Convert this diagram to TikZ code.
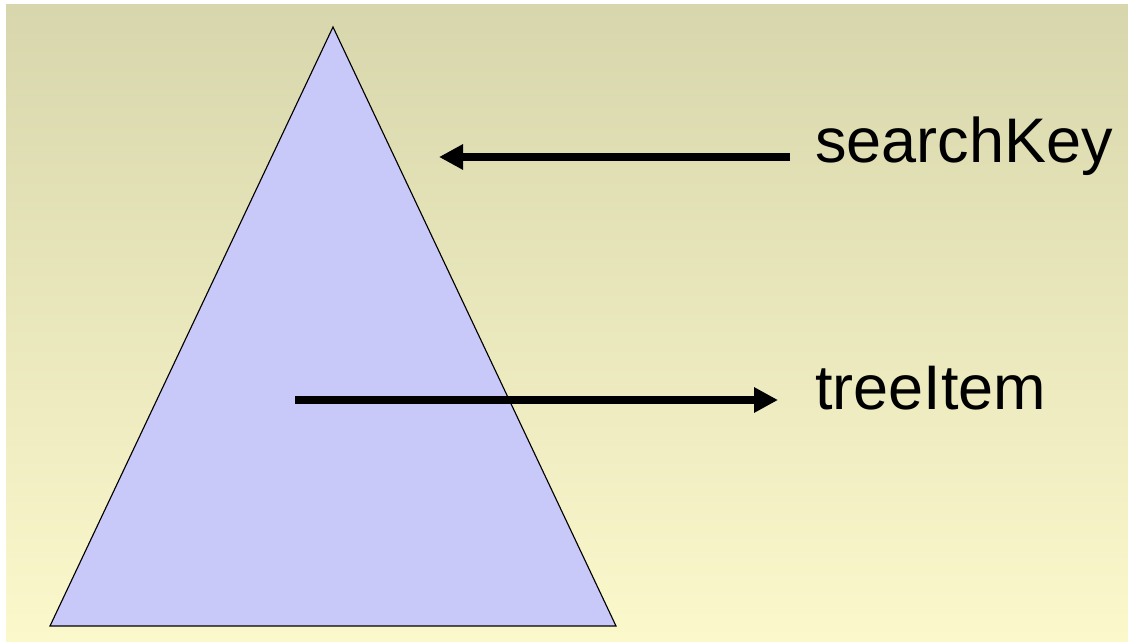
\documentclass[tikz,border=0pt]{standalone}
\usepackage{fontspec}
\setmainfont{Liberation Sans}
\usetikzlibrary{arrows.meta}
\definecolor{bgTop}{RGB}{216,214,172}
\definecolor{bgBot}{RGB}{251,248,204}
\definecolor{treeFill}{RGB}{200,200,249}
\begin{document}
\begin{tikzpicture}[
  x=0.025cm, y=-0.025cm,
  every node/.style={inner sep=0pt},
  tree/.style={fill=treeFill,draw=black,line width=0.8pt,line join=miter},
  ptr/.style={line width=5pt,-{Triangle[length=0.6cm,width=0.6cm]}},
  lab/.style={font=\fontsize{44.8}{52}\selectfont,anchor=base west},
]
  \useasboundingbox (0,0) rectangle (1128,642);
  % ============ background ============
  \fill[white] (0,0) rectangle (1128,642);
  \shade[top color=bgTop,bottom color=bgBot] (6,5) rectangle (1128,642);
  % ============ tree ============
  \coordinate (apex) at (333,27);
  \coordinate (bl) at (50,626);
  \coordinate (br) at (616,626);
  \draw[tree] (apex) -- (bl) -- (br) -- cycle;
  % ============ labels ============
  \node[lab] (sk) at (815,163) {searchKey};
  \node[lab] (ti) at (815,409) {treeItem};
  % ============ arrows ============
  \coordinate (skTail) at (790,157);
  \coordinate (skHead) at (439,157);
  \coordinate (tiTail) at (295,400);
  \coordinate (tiHead) at (778,400);
  \draw[ptr] (skTail) -- (skHead);
  \draw[ptr] (tiTail) -- (tiHead);
\end{tikzpicture}
\end{document}
